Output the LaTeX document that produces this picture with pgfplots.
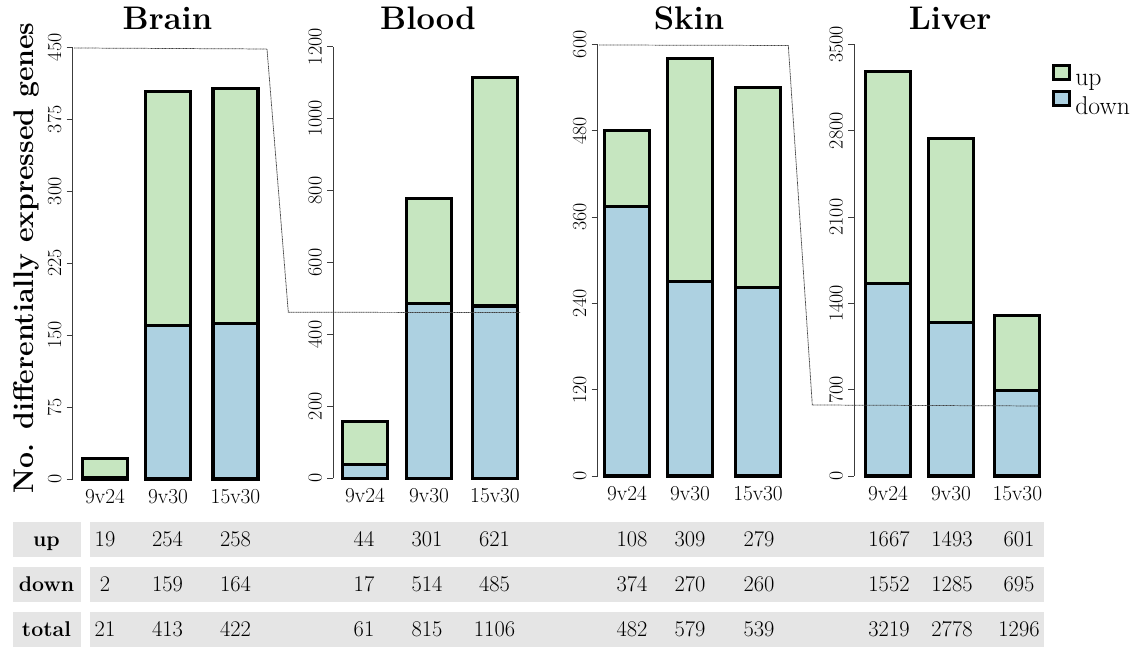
\documentclass[border=0pt]{standalone}
\usepackage{fontspec}
\usepackage{pgfplots}
\pgfplotsset{compat=1.18}
\definecolor{upc}{RGB}{198,230,192}
\definecolor{downc}{RGB}{173,209,225}
\definecolor{band}{RGB}{229,229,229}
\definecolor{axc}{RGB}{60,60,60}

\pgfplotsset{
  boxlegend/.style={legend image code/.code={\draw[##1, line width=2.3pt] (1.15pt,1.15pt) rectangle (13.15pt,11.65pt); \path (16.3pt,0pt);}},
  organ/.style={
    scale only axis,
    width=150pt,
    height=323.7pt,
    xmin=0, xmax=200,
    ymin=0,
    ybar stacked,
    bar width=45,
    axis x line*=bottom,
    axis y line*=left,
    x axis line style={draw=none},
    y axis line style={line width=0.6pt, axc},
    xtick style={draw=none},
    ytick style={line width=0.6pt, axc},
    tick align=outside,
    major tick length=4.5pt,
    xtick=data,
    xticklabels={9v24,9v30,15v30},
    xticklabel style={font=\fontsize{16}{17}\selectfont, anchor=base, inner sep=0pt},
    xticklabel shift=13.9pt,
    yticklabel style={font=\fontsize{15}{16}\selectfont, rotate=90, anchor=south, inner sep=0pt},
    yticklabel shift=3.75pt,
    scaled y ticks=false,
    /pgf/number format/assume math mode=true,
    /pgf/number format/1000 sep={},
    every axis plot/.append style={draw=black, line width=2.3pt},
    clip=false,
  },
}

\begin{document}
\begin{tikzpicture}[x=0.75pt,y=0.75pt]
\path[use as bounding box] (0,0) rectangle (1139,648);

% Brain
\begin{axis}[organ, at={(72.7*0.75pt,169*0.75pt)}, anchor=south west,
  ymax=450, ytick={0,75,...,450}]
\addplot[fill=downc] coordinates {(32.3,2) (95.3,160) (162.8,162)};
\addplot[fill=upc] coordinates {(32.3,19) (95.3,244) (162.8,245)};
\end{axis}

% Blood
\begin{axis}[organ, at={(333.3*0.75pt,169.7*0.75pt)}, anchor=south west,
  ymax=1200, ytick={0,200,...,1200}]
\addplot[fill=downc] coordinates {(31.7,39) (95.7,485) (161.7,479)};
\addplot[fill=upc] coordinates {(31.7,119) (95.7,292) (161.7,635)};
\end{axis}

% Skin
\begin{axis}[organ, at={(597.7*0.75pt,172*0.75pt)}, anchor=south west,
  ymax=600, ytick={0,120,...,600}]
\addplot[fill=downc] coordinates {(29.3,374) (92.3,270) (160.3,262)};
\addplot[fill=upc] coordinates {(29.3,106) (92.3,310) (160.3,278)};
\end{axis}

% Liver
\begin{axis}[organ, at={(854.3*0.75pt,172*0.75pt)}, anchor=south west,
  ymax=3500, ytick={0,700,...,3500},
  reverse legend,
  legend style={at={(0.9885,0.9544)}, anchor=north west, draw=none, fill=none,
    inner sep=0pt, outer sep=0pt, row sep=1.6pt,
    font=\fontsize{19.3}{20}\selectfont,
    nodes={inner sep=0pt, outer sep=0pt}},
  legend cell align=left]
\addplot[fill=downc, boxlegend] coordinates {(33.7,1562) (96.7,1243) (163,697)};
\addlegendentry{down}
\addplot[fill=upc, boxlegend] coordinates {(33.7,1717) (96.7,1495) (163,604)};
\addlegendentry{up}
\end{axis}

% connector lines
\draw[black!75, line width=0.55pt, dash pattern=on 0.7pt off 0.35pt]
  (74,648-48) -- (267,648-49) -- (288.3,648-312.3) -- (520,648-312.5);
\draw[black!75, line width=0.55pt, dash pattern=on 0.7pt off 0.35pt]
  (599,648-45) -- (788.3,648-45.5) -- (812.3,648-405) -- (1040,648-406);

% titles
\begin{scope}[every node/.style={anchor=base, font=\bfseries\fontsize{24.5}{26}\selectfont}]
\node at (167.5,648-29.3) {Brain};
\node at (428,648-29.3) {Blood};
\node at (689,648-29.3) {Skin};
\node at (950,648-29.3) {Liver};
\end{scope}

% y label
\node[rotate=90, anchor=base, inner sep=0pt, font=\bfseries\fontsize{21.3}{23}\selectfont] at (33.3,648-258) {No. differentially expressed genes};

% table
\fill[band] (12.5,648-521.7) rectangle (81,648-557.3);
\fill[band] (12.5,648-566.7) rectangle (81,648-602.3);
\fill[band] (12.5,648-611.7) rectangle (81,648-646.7);
\fill[band] (89.5,648-521.7) rectangle (1044,648-557.3);
\fill[band] (89.5,648-566.7) rectangle (1044,648-602.3);
\fill[band] (89.5,648-611.7) rectangle (1044,648-646.7);
\begin{scope}[every node/.style={anchor=base, inner sep=0pt, font=\bfseries\fontsize{16}{18}\selectfont}]
\node at (46.5,648-547) {up};
\node at (46.5,648-592) {down};
\node at (46.5,648-637) {total};
\end{scope}
\begin{scope}[every node/.style={anchor=base, inner sep=0pt, font=\fontsize{16.8}{18}\selectfont}]
% up
\node at (105,648-547) {19};   \node at (167.5,648-547) {254}; \node at (235.5,648-547) {258};
\node at (364,648-547) {44};   \node at (427,648-547) {301};   \node at (494.5,648-547) {621};
\node at (632,648-547) {108};  \node at (690,648-547) {309};   \node at (759,648-547) {279};
\node at (889,648-547) {1667}; \node at (952,648-547) {1493};  \node at (1019,648-547) {601};
% down
\node at (105,648-592) {2};    \node at (167.5,648-592) {159}; \node at (235.5,648-592) {164};
\node at (364,648-592) {17};   \node at (427,648-592) {514};   \node at (494.5,648-592) {485};
\node at (632,648-592) {374};  \node at (690,648-592) {270};   \node at (759,648-592) {260};
\node at (889,648-592) {1552}; \node at (952,648-592) {1285};  \node at (1019,648-592) {695};
% total
\node at (105,648-637) {21};   \node at (167.5,648-637) {413}; \node at (235.5,648-637) {422};
\node at (364,648-637) {61};   \node at (427,648-637) {815};   \node at (494.5,648-637) {1106};
\node at (632,648-637) {482};  \node at (690,648-637) {579};   \node at (759,648-637) {539};
\node at (889,648-637) {3219}; \node at (952,648-637) {2778};  \node at (1019,648-637) {1296};
\end{scope}
\end{tikzpicture}
\end{document}
